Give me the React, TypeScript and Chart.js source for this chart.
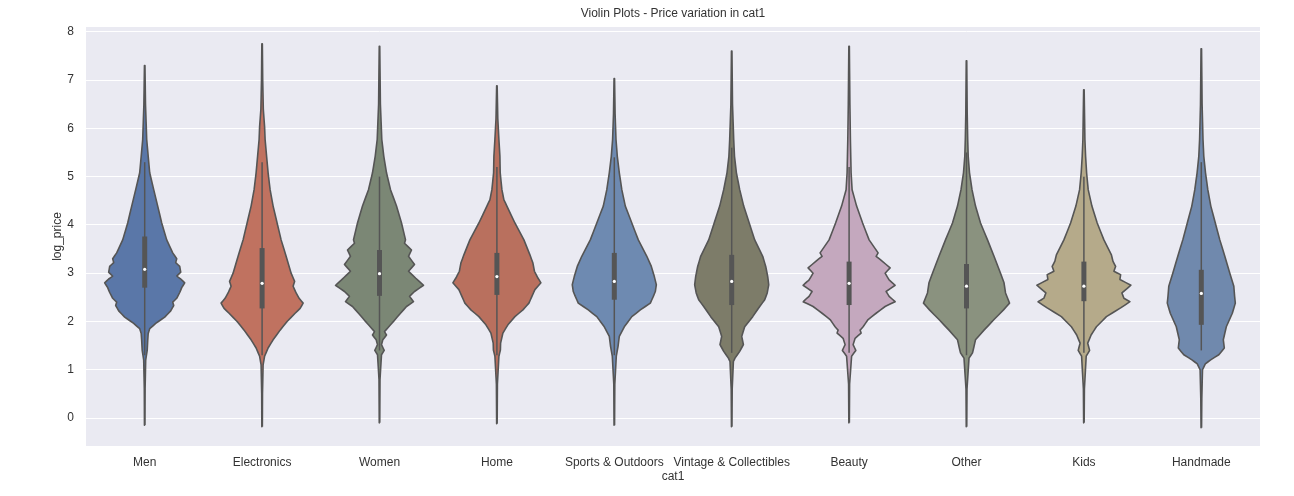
import React, { useEffect, useRef } from 'react';
import { Chart, registerables } from 'chart.js';

Chart.register(...registerables);

const TITLE = 'Violin Plots - Price variation in cat1';

const categories = [
  'Men',
  'Electronics',
  'Women',
  'Home',
  'Sports & Outdoors',
  'Vintage & Collectibles',
  'Beauty',
  'Other',
  'Kids',
  'Handmade',
];

// [log_price, density], bottom to top.
// density is the half width, scaled so the widest violins sit near 44
const menDensity = [
  [-0.15, 0.25], [0.6, 0.4], [1.2, 1], [1.4, 2.5], [1.6, 3], [1.75, 3.5], [1.85, 5],
  [1.96, 11], [2.09, 20], [2.22, 26], [2.33, 29], [2.4, 28], [2.48, 32], [2.6, 35],
  [2.7, 37], [2.8, 40], [2.88, 36], [2.94, 32], [3.02, 36], [3.14, 35], [3.22, 31],
  [3.3, 32], [3.42, 28], [3.69, 22], [4.04, 17], [4.39, 13], [4.73, 9], [5.08, 5],
  [5.42, 3.5], [5.77, 2], [6.5, 0.8], [7.3, 0.25],
];
const electronicsDensity = [
  [-0.18, 0.25], [0.5, 0.4], [1.1, 1], [1.28, 2.5], [1.45, 6], [1.62, 11], [1.82, 18],
  [2.0, 25], [2.17, 33], [2.27, 38], [2.38, 41], [2.48, 37], [2.59, 34], [2.73, 31],
  [2.83, 32.5], [3.0, 29], [3.35, 24], [3.69, 19], [4.04, 15], [4.39, 11], [4.73, 8],
  [5.08, 6], [5.42, 4.5], [5.77, 3], [6.03, 2.5], [6.4, 1.2], [7.0, 0.6], [7.75, 0.25],
];
const womenDensity = [
  [-0.1, 0.25], [0.8, 0.5], [1.31, 2], [1.4, 4.7], [1.52, 2], [1.62, 3.3], [1.72, 7],
  [1.79, 5], [1.86, 8], [2.0, 14], [2.17, 21], [2.31, 27], [2.41, 34], [2.52, 30],
  [2.62, 35], [2.75, 44], [2.9, 36], [3.04, 29], [3.18, 35], [3.35, 29], [3.48, 32],
  [3.62, 25], [3.69, 26], [4.04, 22], [4.39, 17], [4.73, 11], [5.08, 7], [5.42, 4.3],
  [5.77, 2.3], [6.5, 0.9], [7.7, 0.25],
];
const homeDensity = [
  [-0.12, 0.25], [0.7, 0.5], [1.28, 2], [1.41, 3.5], [1.55, 3.7], [1.76, 6], [1.93, 11],
  [2.1, 18], [2.24, 26], [2.38, 32], [2.52, 35], [2.66, 38], [2.8, 44], [2.9, 41],
  [3.04, 37.5], [3.21, 36], [3.38, 33], [3.69, 27], [4.04, 18], [4.39, 10], [4.52, 7],
  [4.73, 5], [5.08, 3.3], [5.42, 3], [5.77, 2], [6.2, 0.9], [6.88, 0.25],
];
const sportsDensity = [
  [-0.15, 0.25], [0.7, 0.5], [1.28, 2], [1.48, 3.7], [1.69, 5], [1.89, 10], [2.1, 17.5],
  [2.24, 26], [2.38, 36], [2.52, 39], [2.62, 41], [2.76, 42], [2.93, 40], [3.14, 37],
  [3.35, 32.5], [3.69, 24], [4.04, 17.5], [4.39, 11], [4.73, 7.5], [5.08, 5], [5.42, 3],
  [5.77, 1.7], [6.3, 0.8], [7.03, 0.25],
];
const vintageDensity = [
  [-0.18, 0.25], [0.6, 0.5], [1.17, 1.7], [1.24, 3.3], [1.38, 8], [1.52, 11.7], [1.69, 10],
  [1.89, 13], [2.1, 21], [2.31, 28], [2.45, 33], [2.59, 35.5], [2.76, 37], [2.93, 36],
  [3.14, 34], [3.35, 31], [3.69, 23], [4.04, 17.5], [4.39, 12], [4.73, 8], [5.08, 4.7],
  [5.42, 2.8], [5.77, 2], [6.5, 0.8], [7.6, 0.25],
];
const beautyDensity = [
  [-0.1, 0.25], [0.7, 0.5], [1.28, 2.5], [1.4, 6.7], [1.52, 4], [1.65, 6], [1.76, 12],
  [1.82, 11], [1.89, 14], [2.04, 19], [2.17, 27], [2.31, 36], [2.41, 46], [2.52, 40],
  [2.62, 37], [2.75, 46], [2.86, 40], [3.0, 36], [3.11, 41], [3.25, 33], [3.35, 27],
  [3.42, 29], [3.69, 20], [4.04, 13.5], [4.39, 7.5], [4.73, 3], [5.08, 2], [5.77, 1.3],
  [6.5, 0.8], [7.7, 0.25],
];
const otherDensity = [
  [-0.18, 0.25], [0.6, 0.5], [1.24, 2.5], [1.35, 6], [1.48, 7.5], [1.62, 9], [1.82, 17.5],
  [2.04, 27.5], [2.24, 37], [2.38, 43], [2.59, 39], [2.8, 37.5], [3.0, 34], [3.35, 27.5],
  [3.69, 21], [4.04, 14], [4.39, 9], [4.73, 5.5], [5.08, 3], [5.42, 1.7], [5.77, 1.2],
  [6.3, 0.7], [7.4, 0.25],
];
const kidsDensity = [
  [-0.1, 0.25], [0.6, 0.5], [1.28, 2.3], [1.4, 5.7], [1.55, 3.8], [1.72, 7.2], [1.89, 12.5],
  [2.1, 22.5], [2.28, 36.7], [2.41, 46], [2.48, 40], [2.59, 38], [2.75, 47], [2.87, 36],
  [2.97, 36.7], [3.04, 30], [3.14, 31.7], [3.25, 29], [3.38, 27.5], [3.69, 20], [4.04, 13.3],
  [4.39, 8], [4.73, 4.3], [5.08, 2.7], [5.42, 1.7], [5.77, 1], [6.2, 0.7], [6.8, 0.25],
];
const handmadeDensity = [
  [-0.2, 0.25], [0.4, 0.5], [1.0, 1.2], [1.12, 4], [1.2, 9], [1.31, 17.5], [1.45, 23],
  [1.62, 22], [1.89, 25], [2.17, 31], [2.38, 34], [2.52, 33.3], [2.73, 32.5], [3.0, 28.5],
  [3.35, 23.5], [3.69, 18.5], [4.04, 14], [4.39, 9.5], [4.73, 6.5], [5.08, 4.2], [5.42, 2.5],
  [5.77, 1.7], [6.5, 0.8], [7.65, 0.25],
];

const densities = [
  menDensity,
  electronicsDensity,
  womenDensity,
  homeDensity,
  sportsDensity,
  vintageDensity,
  beautyDensity,
  otherDensity,
  kidsDensity,
  handmadeDensity,
];

// inner box: quartiles, medians and whisker ends
const q1 = [2.7, 2.27, 2.53, 2.55, 2.45, 2.34, 2.34, 2.27, 2.42, 1.93];
const medians = [3.08, 2.79, 2.99, 2.93, 2.83, 2.83, 2.79, 2.73, 2.73, 2.58];
const q3 = [3.76, 3.52, 3.48, 3.42, 3.42, 3.38, 3.24, 3.19, 3.24, 3.07];
const whiskerLow = [1.3, 1.3, 1.4, 1.3, 1.3, 1.35, 1.35, 1.3, 1.35, 1.4];
const whiskerHigh = [5.3, 5.3, 5.0, 5.2, 5.4, 5.6, 5.2, 5.5, 5.0, 5.3];

const yTicks = [0, 1, 2, 3, 4, 5, 6, 7, 8];

const fills = [
  '#5a77a8',
  '#c07260',
  '#7b8775',
  '#b9705e',
  '#6e8ab1',
  '#7d7c69',
  '#c4a8be',
  '#8a927f',
  '#b5aa8a',
  '#7089ad',
];
const GRAY = '#555555';
const FONT = '"Liberation Sans", Arial, sans-serif';
const TEXT = '#333333';
const HALF_WIDTH = 0.375 / 44; // density unit -> category units

const outline = (i, profile) => {
  const right = profile.map(([v, d]) => ({ x: i + d * HALF_WIDTH, y: v }));
  const left = profile
    .slice()
    .reverse()
    .map(([v, d]) => ({ x: i - d * HALF_WIDTH, y: v }));
  return [...right, ...left, right[0]];
};

const plotBackground = {
  id: 'plotBackground',
  beforeDraw(chart) {
    const { ctx, chartArea } = chart;
    ctx.save();
    ctx.fillStyle = '#eaeaf2';
    ctx.fillRect(chartArea.left, chartArea.top, chartArea.width, chartArea.height);
    ctx.restore();
  },
};

const plotTitle = {
  id: 'plotTitle',
  afterDraw(chart) {
    const { ctx, chartArea } = chart;
    ctx.save();
    ctx.font = `12px ${FONT}`;
    ctx.fillStyle = TEXT;
    ctx.textAlign = 'center';
    ctx.textBaseline = 'middle';
    ctx.fillText(TITLE, (chartArea.left + chartArea.right) / 2, 14);
    ctx.restore();
  },
};

const ViolinChart = () => {
  const chartRef = useRef<HTMLCanvasElement>(null);

  useEffect(() => {
    const violins = densities.map((profile, i) => ({
      label: categories[i],
      data: outline(i, profile),
      showLine: true,
      fill: 'shape',
      backgroundColor: fills[i],
      borderColor: GRAY,
      borderWidth: 1.6,
      borderJoinStyle: 'round',
      pointRadius: 0,
      // a tiny tension keeps chart.js off its x-sorted fast path, which breaks closed shapes
      tension: 0.0001,
      order: 3,
    }));
    const whiskers = categories.map((c, i) => ({
      label: `${c} whisker`,
      data: [
        { x: i, y: whiskerLow[i] },
        { x: i, y: whiskerHigh[i] },
      ],
      showLine: true,
      borderColor: GRAY,
      borderWidth: 1.5,
      pointRadius: 0,
      order: 2,
    }));
    const boxes = categories.map((c, i) => ({
      label: `${c} box`,
      data: [
        { x: i, y: q1[i] },
        { x: i, y: q3[i] },
      ],
      showLine: true,
      borderColor: GRAY,
      borderWidth: 5,
      borderCapStyle: 'butt',
      pointRadius: 0,
      order: 1,
    }));
    const medianPoints = {
      label: 'median',
      data: medians.map((m, i) => ({ x: i, y: m })),
      showLine: false,
      pointRadius: 1.6,
      pointBorderWidth: 0,
      pointBackgroundColor: '#ffffff',
      order: 0,
    };

    const chart = new Chart(chartRef.current, {
      type: 'scatter',
      data: { datasets: [...violins, ...whiskers, ...boxes, medianPoints] as any },
      options: {
        animation: false,
        responsive: true,
        maintainAspectRatio: false,
        events: [],
        layout: { padding: { left: 48, right: 34, top: 27, bottom: 0 } },
        plugins: {
          legend: { display: false },
          tooltip: { enabled: false },
        },
        scales: {
          x: {
            type: 'linear',
            min: -0.5,
            max: 9.5,
            afterBuildTicks: (scale) => {
              scale.ticks = categories.map((_, i) => ({ value: i }));
            },
            afterFit: (scale) => {
              scale.height = 50;
            },
            grid: { display: false, drawTicks: false },
            border: { display: false },
            ticks: {
              padding: 9,
              color: TEXT,
              font: { family: FONT, size: 12 },
              maxRotation: 0,
              autoSkip: false,
              callback: (v) => categories[v as number] ?? '',
            },
            title: {
              display: true,
              text: 'cat1',
              color: TEXT,
              font: { family: FONT, size: 12 },
              padding: { top: 0, bottom: 12 },
            },
          },
          y: {
            type: 'linear',
            min: -0.58,
            max: 8.1,
            afterBuildTicks: (scale) => {
              scale.ticks = yTicks.map((value) => ({ value }));
            },
            afterFit: (scale) => {
              scale.width = 38;
            },
            grid: { color: '#ffffff', lineWidth: 1, drawTicks: false },
            border: { display: false },
            ticks: {
              padding: 12,
              color: TEXT,
              font: { family: FONT, size: 12 },
            },
            title: {
              display: true,
              text: 'log_price',
              color: TEXT,
              font: { family: FONT, size: 12 },
              padding: { top: 2, bottom: 0 },
            },
          },
        },
      },
      plugins: [plotBackground, plotTitle],
    });

    return () => chart.destroy();
  }, []);

  return (
    <div style={{ position: 'fixed', left: 0, top: 0, width: 1294, height: 496, background: '#ffffff' }}>
      <canvas ref={chartRef} />
    </div>
  );
};

export default function App() {
  return <ViolinChart />;
}
